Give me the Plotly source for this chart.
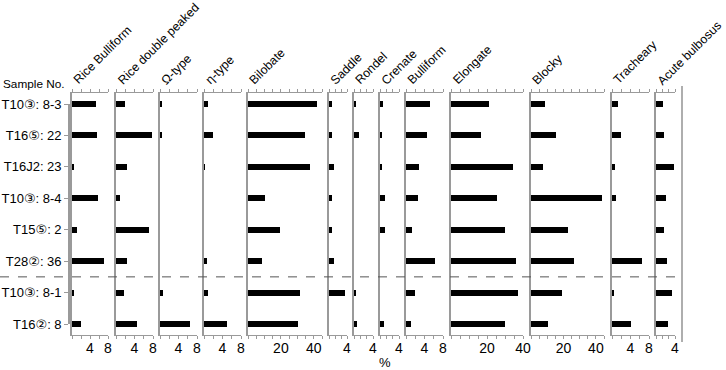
import plotly.graph_objects as go

W, H = 726, 370

samples = ["T10③: 8-3", "T16⑤: 22", "T16J2: 23", "T10③: 8-4",
           "T15⑤: 2", "T28②: 36", "T10③: 8-1", "T16②: 8"]

types = ["Rice Bulliform", "Rice double peaked", "Ω-type", "η-type", "Bilobate",
         "Saddle", "Rondel", "Crenate", "Bulliform", "Elongate", "Blocky",
         "Tracheary", "Acute bulbosus"]

rice_bulliform = [5.3, 5.5, 0.3, 5.8, 1.0, 7.1, 0.4, 1.9]
rice_double_peaked = [2.0, 7.8, 2.3, 0.8, 7.1, 2.4, 1.8, 4.6]
omega_type = [0.5, 0.3, 0, 0, 0, 0, 0.7, 6.5]
eta_type = [0.9, 1.9, 0.2, 0, 0, 0.7, 0.9, 5.0]
bilobate = [41.9, 34.8, 37.8, 10.6, 19.5, 8.5, 31.9, 30.7]
saddle = [0.67, 0.67, 1.2, 0.67, 0.67, 1.2, 3.5, 0]
rondel = [0.3, 1.0, 0, 0, 0, 0, 0.3, 0.65]
crenate = [0.7, 0.35, 0.5, 0.95, 1.0, 0, 0, 0.8]
bulliform = [5.1, 4.5, 2.8, 2.5, 1.3, 6.3, 1.95, 1.0]
elongate = [21.1, 16.5, 34.7, 25.4, 30.2, 35.9, 37.4, 30.0]
blocky = [8.8, 15.6, 7.2, 44.0, 23.0, 26.5, 19.3, 10.7]
tracheary = [1.3, 2.0, 0.6, 0.95, 0, 6.5, 0.3, 4.1]
acute_bulbosus = [1.5, 1.6, 3.7, 2.0, 1.7, 2.3, 3.3, 2.5]

series = [rice_bulliform, rice_double_peaked, omega_type, eta_type, bilobate,
          saddle, rondel, crenate, bulliform, elongate, blocky, tracheary,
          acute_bulbosus]

# panel pixel extents and axis ranges / ticks
px_left = [72, 116, 160, 204, 248, 329, 354, 380, 406, 451, 531, 612, 656]
px_right = [108, 153, 197, 241, 322, 347, 373, 399, 443, 523, 604, 649, 675]
ranges = [8, 8, 8, 8, 45, 4, 4, 4, 8, 40, 45, 8, 4]
tick_steps = {8: 2, 45: 5, 40: 5, 4: 4 / 3}
label_vals = {8: [4, 8], 45: [20, 40], 40: [20, 40], 4: [4]}

FONT = "Liberation Sans, Arial, DejaVu Sans, sans-serif"
GRAY = "#9a9a9a"
py_top, py_bot = 93, 335

def pxx(p):
    return p / W

def pxy(p):
    return 1 - p / H

fig = go.Figure()
layout = {}
for i, (name, vals) in enumerate(zip(types, series)):
    k = i + 1
    sx = "" if k == 1 else str(k)
    fig.add_trace(go.Bar(x=vals, y=samples, orientation="h", width=0.19,
                         marker=dict(color="black", line=dict(width=0)),
                         xaxis="x" + sx, yaxis="y" + sx, showlegend=False,
                         hoverinfo="x+y", name=name))
    r = ranges[i]
    step = tick_steps[r]
    n = int(round(r / step))
    tv = [j * step for j in range(n + 1)]
    tt = []
    for v in tv:
        lab = ""
        for lv in label_vals[r]:
            if abs(v - lv) < 1e-6:
                lab = str(lv)
        tt.append(lab)
    layout["xaxis" + sx] = dict(
        domain=[pxx(px_left[i]), pxx(px_right[i])], range=[0, r],
        anchor="y" + sx, tickvals=tv, ticktext=tt, ticks="outside",
        ticklen=3, tickcolor=GRAY, tickwidth=1, showline=True,
        linecolor=GRAY, linewidth=1, mirror="ticks", showgrid=False,
        zeroline=False, tickfont=dict(size=14, color="black", family=FONT),
        ticklabelstandoff=-3, automargin=False, fixedrange=True)
    layout["yaxis" + sx] = dict(
        domain=[pxy(py_bot), pxy(py_top)], type="category",
        categoryorder="array", categoryarray=samples,
        range=[7.35, -0.35], anchor="x" + sx, showline=True,
        linecolor=GRAY, linewidth=1.6, showticklabels=False, ticks="",
        showgrid=False, zeroline=False, automargin=False, fixedrange=True)

# sample label axis
fig.add_trace(go.Scatter(x=[0] * len(samples), y=samples, mode="markers",
                         marker=dict(opacity=0), xaxis="x14", yaxis="y14",
                         showlegend=False, hoverinfo="skip"))
layout["xaxis14"] = dict(domain=[0, 0.05], visible=False, anchor="y14",
                         range=[1, 2], automargin=False, fixedrange=True)
layout["yaxis14"] = dict(domain=[pxy(324), pxy(104)], anchor="free",
                         position=pxx(69), side="left", type="category",
                         categoryorder="array", categoryarray=samples,
                         range=[7, 0], showline=True, linecolor=GRAY,
                         linewidth=1.6, ticks="outside", ticklen=4,
                         tickcolor=GRAY, showgrid=False, zeroline=False,
                         tickfont=dict(size=13, color="black", family=FONT),
                         automargin=False, fixedrange=True)

annotations = []
for i, name in enumerate(types):
    annotations.append(dict(text=name, x=pxx(px_left[i] - 4), y=pxy(90),
                            xref="paper", yref="paper", xanchor="left",
                            yanchor="bottom", textangle=-45, showarrow=False,
                            font=dict(size=12.3, color="black", family=FONT)))
annotations.append(dict(text="Sample No.", x=pxx(1), y=pxy(84), xref="paper",
                        yref="paper", xanchor="left", yanchor="middle",
                        showarrow=False,
                        font=dict(size=11.8, color="black", family=FONT)))
annotations.append(dict(text="%", x=pxx(385), y=pxy(362), xref="paper",
                        yref="paper", xanchor="center", yanchor="middle",
                        showarrow=False,
                        font=dict(size=13, color="black", family=FONT)))

shapes = [
    dict(type="line", xref="paper", yref="y", x0=0, x1=pxx(682), y0=5.5,
         y1=5.5, line=dict(color="#555555", width=1, dash="dash")),
    dict(type="line", xref="paper", yref="paper", x0=pxx(682), x1=pxx(682),
         y0=pxy(342), y1=pxy(86), line=dict(color=GRAY, width=1.6)),
]

fig.update_layout(width=W, height=H, margin=dict(l=0, r=0, t=0, b=0),
                  paper_bgcolor="white", plot_bgcolor="white",
                  font=dict(family=FONT, color="black"),
                  annotations=annotations, shapes=shapes, bargap=0,
                  **layout)

fig.write_html("out.html", config={"displayModeBar": False},
               post_script="document.body.style.margin='0px';"
                           "document.body.style.overflow='hidden';")
